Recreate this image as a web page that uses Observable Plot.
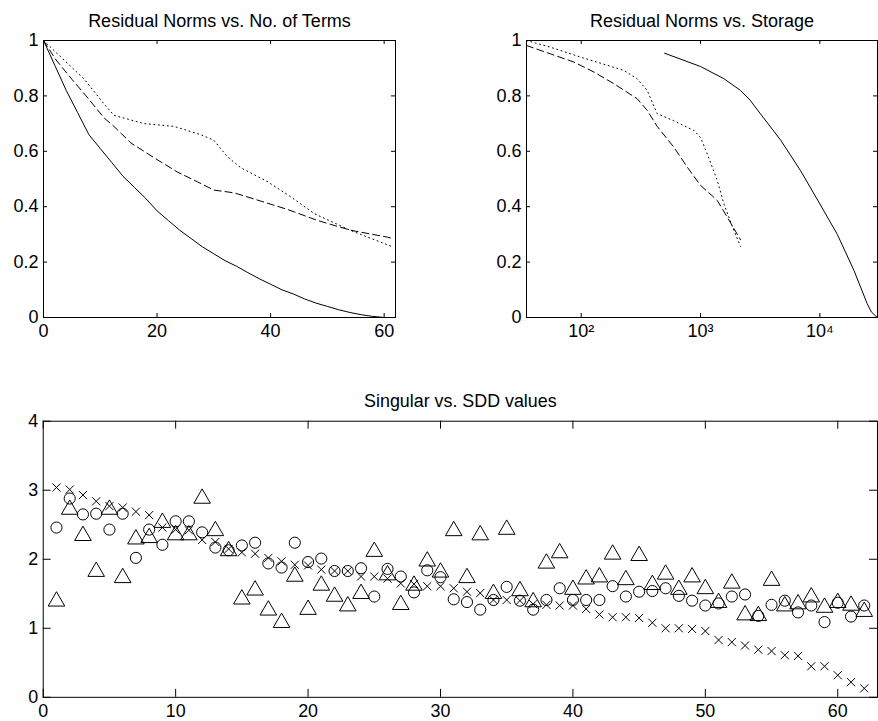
<!DOCTYPE html>
<html><head><meta charset="utf-8">
<script src="https://cdn.jsdelivr.net/npm/d3@7"></script>
<script src="https://cdn.jsdelivr.net/npm/@observablehq/plot@0.6"></script>
<style>
body{margin:0;background:#fff;}
#root{position:relative;width:878px;height:721px;overflow:hidden;background:#fff;}
#root svg{position:absolute;}
</style></head><body><div id="root"></div>
<script>
// ---------- Data ----------
// Panel 1: Residual norms vs number of terms
const p1SolidTerms = [0,2,4,6,8,10,12,14,16,18,20,22,24,26,28,30,32,34,36,38,40,42,44,46,48,50,52,54,56,58,60];
const p1SolidResid = [1.0,0.91,0.82,0.74,0.66,0.61,0.56,0.51,0.47,0.43,0.385,0.35,0.315,0.285,0.255,0.23,0.205,0.185,0.162,0.14,0.12,0.1,0.085,0.067,0.052,0.04,0.028,0.018,0.01,0.004,0.0];
const p1DashTerms = [0,2.2,5,7.5,10.7,12.4,15.4,20,23.6,27.1,30,33.6,38.3,43,48.3,54.1,60.6,61.5];
const p1DashResid = [1,0.93,0.86,0.80,0.72,0.69,0.63,0.57,0.525,0.49,0.46,0.45,0.42,0.39,0.35,0.315,0.29,0.285];
const p1DotTerms = [0,7.2,10.7,12.4,17.7,23,27.7,30,32.4,34.8,39.5,43.6,47.7,54,61.5];
const p1DotResid = [1,0.86,0.77,0.73,0.70,0.69,0.66,0.64,0.58,0.54,0.49,0.435,0.375,0.315,0.255];

// Panel 2: Residual norms vs storage (log x)
const p2SolidStorage = [500,1000,1570,2160,2600,3180,4700,6890,10000,14000,19300,24900,27000,30300];
const p2SolidResid = [0.954,0.906,0.862,0.82,0.785,0.735,0.64,0.53,0.41,0.30,0.17,0.05,0.02,0.0];
const p2DashStorage = [34.8,55,87,128,188,294,357,433,597,773,1000,1380,1670,2160];
const p2DashResid = [0.982,0.952,0.922,0.886,0.844,0.79,0.748,0.69,0.615,0.543,0.477,0.423,0.363,0.281];
const p2DotStorage = [34.8,55,99,228,294,357,433,597,880,1000,1140,1380,1570,1900,2160];
const p2DotResid = [1.0,0.976,0.94,0.892,0.862,0.82,0.736,0.71,0.675,0.65,0.59,0.495,0.41,0.315,0.257];

// Panel 3: singular values (x), SDD values (circles, triangles), index 1..62
const singularVals = [3.04,3.01,2.93,2.84,2.77,2.75,2.69,2.64,2.46,2.43,2.42,2.28,2.25,2.15,2.10,2.08,2.02,1.97,1.92,1.91,1.85,1.83,1.83,1.75,1.75,1.72,1.65,1.64,1.61,1.61,1.58,1.53,1.51,1.41,1.41,1.40,1.35,1.34,1.33,1.33,1.28,1.20,1.16,1.16,1.15,1.08,1.00,1.00,0.99,0.96,0.83,0.80,0.75,0.69,0.67,0.61,0.60,0.45,0.45,0.32,0.22,0.13];
const sddCircleVals = [2.46,2.88,2.65,2.66,2.43,2.66,2.02,2.43,2.21,2.55,2.55,2.39,2.17,2.13,2.20,2.24,1.94,1.88,2.24,1.96,2.01,1.83,1.83,1.87,1.46,1.86,1.75,1.52,1.84,1.74,1.42,1.38,1.27,1.41,1.60,1.40,1.27,1.41,1.58,1.41,1.41,1.41,1.61,1.46,1.53,1.54,1.58,1.47,1.40,1.33,1.36,1.46,1.49,1.18,1.34,1.40,1.23,1.33,1.09,1.37,1.17,1.33];
const sddTriangleVals = [1.42,2.75,2.37,1.85,2.75,1.76,2.32,2.34,2.56,2.38,2.38,2.91,2.44,2.15,1.45,1.58,1.29,1.11,1.78,1.30,1.65,1.49,1.35,1.53,2.14,1.80,1.37,1.65,2.00,1.84,2.44,1.76,2.38,1.53,2.46,1.57,1.41,1.97,2.12,1.59,1.74,1.77,2.10,1.73,2.08,1.66,1.81,1.59,1.77,1.60,1.40,1.68,1.22,1.21,1.72,1.35,1.38,1.48,1.33,1.40,1.36,1.27];

// Tick values and labels
const p1XTicks = [0,20,40,60];
const resYTicks = [0,0.2,0.4,0.6,0.8,1];
const p2XTicks = [100,1000,10000];
const p2XLabels = ["10\u00B2","10\u00B3","10\u2074"];
const p3XTicks = [0,10,20,30,40,50,60];
const p3YTicks = [0,1,2,3,4];

const titles = ["Residual Norms vs. No. of Terms","Residual Norms vs. Storage","Singular vs. SDD values"];

// ---------- Helpers ----------
const FONT = "'Liberation Sans', Arial, Helvetica, sans-serif";
const toPts = (xs, ys) => xs.map((x, i) => ({x, y: ys[i]}));

function boxMarks(xTicks, yTicks, xFmt, yFmt, W, H, tl, title) {
  return [
    Plot.tickX(xTicks, {x: d => d, stroke: "black", strokeWidth: 1, insetTop: H - tl}),
    Plot.tickX(xTicks, {x: d => d, stroke: "black", strokeWidth: 1, insetBottom: H - tl}),
    Plot.tickY(yTicks, {y: d => d, stroke: "black", strokeWidth: 1, insetRight: W - tl}),
    Plot.tickY(yTicks, {y: d => d, stroke: "black", strokeWidth: 1, insetLeft: W - tl}),
    Plot.axisX(xTicks, {anchor: "bottom", label: null, tickSize: 0, tickPadding: 7, tickFormat: xFmt, fill: "black"}),
    Plot.axisY(yTicks, {anchor: "left", label: null, tickSize: 0, tickPadding: 5, tickFormat: yFmt, fill: "black"}),
    Plot.frame({stroke: "black", strokeWidth: 1}),
    Plot.text([title], {frameAnchor: "top", dy: -14, lineAnchor: "bottom", fontSize: 18, fill: "black"})
  ];
}

function place(svg, left, top) {
  svg.style.left = left + "px";
  svg.style.top = top + "px";
  document.getElementById("root").appendChild(svg);
}

const baseStyle = {fontSize: "18px", fontFamily: FONT, background: "transparent", overflow: "visible", color: "black"};

// ---------- Panel 1 ----------
{
  const width = 420, height = 345, mL = 43, mR = 25, mT = 40, mB = 28;
  const W = width - mL - mR, H = height - mT - mB;
  const svg = Plot.plot({
    width, height, marginLeft: mL, marginRight: mR, marginTop: mT, marginBottom: mB,
    style: baseStyle,
    x: {domain: [0, 62]},
    y: {domain: [0, 1]},
    marks: [
      Plot.line(toPts(p1SolidTerms, p1SolidResid), {x: "x", y: "y", stroke: "black", strokeWidth: 1, clip: true}),
      Plot.line(toPts(p1DashTerms, p1DashResid), {x: "x", y: "y", stroke: "black", strokeWidth: 1, strokeDasharray: "7,4", clip: true}),
      Plot.line(toPts(p1DotTerms, p1DotResid), {x: "x", y: "y", stroke: "black", strokeWidth: 1, strokeDasharray: "1,3.5", clip: true}),
      ...boxMarks(p1XTicks, resYTicks, d => String(d), d => String(d), W, H, 4, titles[0])
    ]
  });
  place(svg, 0, 0);
}

// ---------- Panel 2 ----------
{
  const width = 438, height = 345, mL = 86, mR = 1, mT = 40, mB = 28;
  const W = width - mL - mR, H = height - mT - mB;
  const svg = Plot.plot({
    width, height, marginLeft: mL, marginRight: mR, marginTop: mT, marginBottom: mB,
    style: baseStyle,
    x: {type: "log", domain: [34.8, 30400]},
    y: {domain: [0, 1]},
    marks: [
      Plot.line(toPts(p2SolidStorage, p2SolidResid), {x: "x", y: "y", stroke: "black", strokeWidth: 1, clip: true}),
      Plot.line(toPts(p2DashStorage, p2DashResid), {x: "x", y: "y", stroke: "black", strokeWidth: 1, strokeDasharray: "7,4", clip: true}),
      Plot.line(toPts(p2DotStorage, p2DotResid), {x: "x", y: "y", stroke: "black", strokeWidth: 1, strokeDasharray: "1,3.5", clip: true}),
      ...boxMarks(p2XTicks, resYTicks, d => p2XLabels[p2XTicks.indexOf(d)], d => String(d), W, H, 4, titles[1])
    ]
  });
  place(svg, 440, 0);
}

// ---------- Panel 3 ----------
{
  const width = 884, height = 341, mL = 43, mR = 1, mT = 41, mB = 22;
  const W = width - mL - mR, H = height - mT - mB;
  const idx = v => v.map((y, i) => ({x: i + 1, y}));
  const svg = Plot.plot({
    width, height, marginLeft: mL, marginRight: mR, marginTop: mT, marginBottom: mB,
    style: baseStyle,
    x: {domain: [0, 63]},
    y: {domain: [0, 4]},
    marks: [
      Plot.dot(idx(sddTriangleVals), {x: "x", y: "y", symbol: "triangle", r: 6.2, stroke: "black", strokeWidth: 1, fill: "none", dy: 2}),
      Plot.dot(idx(sddCircleVals), {x: "x", y: "y", symbol: "circle", r: 5.6, stroke: "black", strokeWidth: 1, fill: "none"}),
      Plot.dot(idx(singularVals), {x: "x", y: "y", symbol: "times", r: 3.8, stroke: "black", strokeWidth: 1, fill: "none"}),
      ...boxMarks(p3XTicks, p3YTicks, d => String(d), d => String(d), W, H, 8, titles[2])
    ]
  });
  place(svg, 0, 380);
}
</script></body></html>
